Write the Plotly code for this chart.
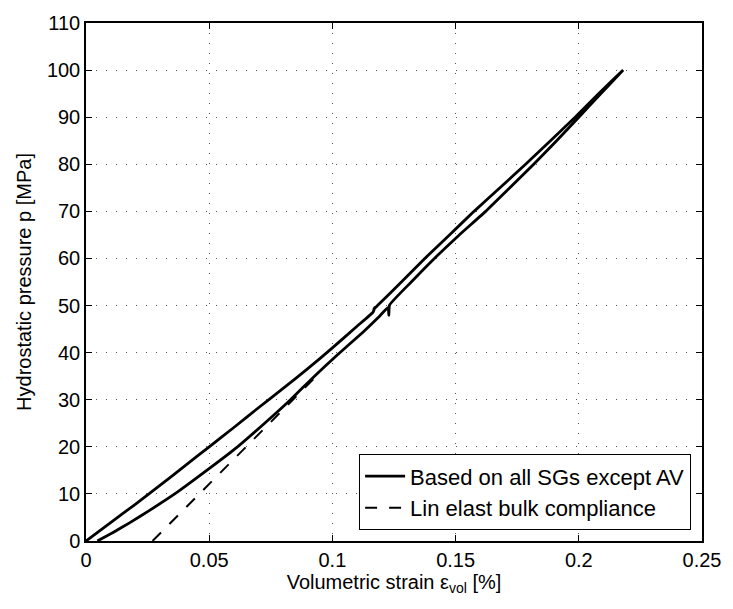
import plotly.graph_objects as go

# Data
# Hysteresis loop: upper branch (0,0)->(0.218,100), lower branch back down to residual strain
upper_strain = [0, 0.01, 0.02, 0.03, 0.04, 0.05, 0.06, 0.07, 0.08, 0.09, 0.10, 0.11,
                0.1165, 0.1172, 0.1168, 0.1185, 0.128, 0.1375, 0.1475, 0.1575, 0.168,
                0.1784, 0.1885, 0.1985, 0.208, 0.218]
upper_p = [0, 3.9, 7.8, 11.8, 15.9, 20.0, 24.1, 28.3, 32.4, 36.6, 41.0, 45.6,
           48.6, 49.6, 49.2, 50.1, 55, 60, 65, 70, 75,
           80, 85, 90, 95, 100]
lower_strain = [0.218, 0.209, 0.200, 0.191, 0.1817, 0.172, 0.1622, 0.1515, 0.1414, 0.132,
                0.1232, 0.1229, 0.1226, 0.1185, 0.1125, 0.1022, 0.0925, 0.083, 0.0725,
                0.0615, 0.049, 0.036, 0.0258, 0.0175, 0.011, 0.0046]
lower_p = [100, 95, 90, 85, 80, 75, 70, 65, 60, 55,
           50.1, 47.9, 49.6, 47.4, 44.4, 39.6, 34.9, 30, 25,
           20, 15, 10, 6.5, 3.8, 1.8, 0]
lin_strain = [0.027, 0.095]
lin_p = [0, 35.8]

x_ticks = [0, 0.05, 0.1, 0.15, 0.2, 0.25]
x_ticklabels = ["0", "0.05", "0.1", "0.15", "0.2", "0.25"]
y_ticks = [0, 10, 20, 30, 40, 50, 60, 70, 80, 90, 100, 110]
y_ticklabels = [str(v) for v in y_ticks]

FONT = "Liberation Sans, Arial, Helvetica, sans-serif"

fig = go.Figure()
fig.add_trace(go.Scatter(
    x=upper_strain + lower_strain, y=upper_p + lower_p, mode="lines",
    name="Based on all SGs except AV",
    line=dict(color="black", width=2.8, shape="spline", smoothing=0.4),
))
fig.add_trace(go.Scatter(
    x=lin_strain, y=lin_p, mode="lines",
    name="Lin elast bulk compliance",
    line=dict(color="black", width=2, dash="12px,12px"),
))

axis_common = dict(
    showline=True, linecolor="black", linewidth=1.5, mirror="ticks",
    ticks="inside", ticklen=6, tickwidth=1, tickcolor="black",
    showgrid=True, gridcolor="#555555", gridwidth=1, griddash="1px,9px",
    zeroline=False,
    tickfont=dict(family=FONT, size=20, color="black"),
)

fig.update_xaxes(
    range=[0, 0.25], tickvals=x_ticks, ticktext=x_ticklabels,
    title=dict(text="Volumetric strain ε<sub>vol</sub> [%]",
               font=dict(family=FONT, size=20, color="black"), standoff=2),
    **axis_common,
)
fig.update_yaxes(
    range=[0, 110], tickvals=y_ticks, ticktext=y_ticklabels,
    title=dict(text="Hydrostatic pressure p [MPa]",
               font=dict(family=FONT, size=20, color="black"), standoff=10),
    **axis_common,
)

fig.update_layout(
    width=733, height=609,
    margin=dict(l=86, r=27, t=14, b=68),
    paper_bgcolor="white", plot_bgcolor="white",
    font=dict(family=FONT, size=20, color="black"),
    showlegend=True,
    legend=dict(
        x=0.982, y=0.021, xanchor="right", yanchor="bottom",
        bgcolor="white", bordercolor="black", borderwidth=1.2,
        font=dict(family=FONT, size=22, color="black"),
        tracegroupgap=0, itemwidth=40,
    ),
)

fig.write_html("out.html")
